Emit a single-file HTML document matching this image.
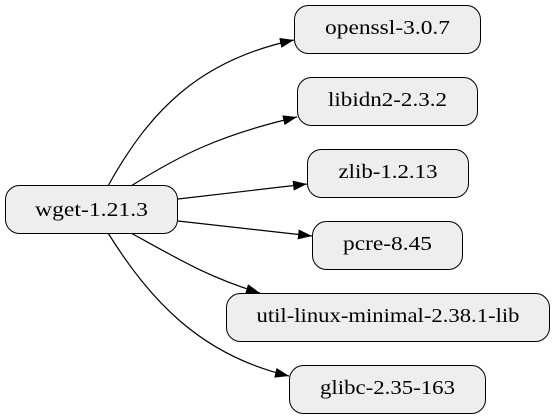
<!DOCTYPE html>
<html><head><meta charset="utf-8"><style>
html,body{margin:0;padding:0;background:#fff;width:553px;height:419px;overflow:hidden}
</style></head><body>
<svg width="553" height="419" viewBox="0 0 553 419" xmlns="http://www.w3.org/2000/svg">
<defs><marker id="a" markerWidth="14" markerHeight="10" refX="14" refY="5" orient="auto" markerUnits="userSpaceOnUse"><path d="M0,0 L14,5 L0,10 z" fill="#000"/></marker></defs>
<g fill="none" stroke="#000" stroke-width="1.2" marker-end="url(#a)">
<path d="M108,186 C150,110 200,60 294,40"/>
<path d="M131,186 C180,155 220,135 297,117"/>
<path d="M178,199 L307,184"/>
<path d="M178,221 L312,236"/>
<path d="M131,233 C180,260 210,278 260,293"/>
<path d="M108,233 C150,300 200,355 289,376"/>
</g>
<g fill="#eeeeee" stroke="#000" stroke-width="1">
<rect x="5.5" y="185.5" width="172" height="48" rx="14"/>
<rect x="294.5" y="5.5" width="186" height="48" rx="14"/>
<rect x="297.5" y="77.5" width="180" height="48" rx="14"/>
<rect x="307.5" y="149.5" width="161" height="48" rx="14"/>
<rect x="312.5" y="221.5" width="150" height="48" rx="14"/>
<rect x="226.5" y="293.5" width="323" height="48" rx="14"/>
<rect x="289.5" y="365.5" width="196" height="48" rx="14"/>
</g>
<g text-anchor="middle" font-family="'Liberation Serif','DejaVu Serif',serif" font-size="19.5" fill="#000">
<text x="91.5" y="216" textLength="113" lengthAdjust="spacingAndGlyphs">wget-1.21.3</text>
<text x="387.5" y="34" textLength="125" lengthAdjust="spacingAndGlyphs">openssl-3.0.7</text>
<text x="387.5" y="106" textLength="119" lengthAdjust="spacingAndGlyphs">libidn2-2.3.2</text>
<text x="388" y="178" textLength="99" lengthAdjust="spacingAndGlyphs">zlib-1.2.13</text>
<text x="387.5" y="250" textLength="89" lengthAdjust="spacingAndGlyphs">pcre-8.45</text>
<text x="388" y="322" textLength="263" lengthAdjust="spacingAndGlyphs">util-linux-minimal-2.38.1-lib</text>
<text x="387.5" y="394" textLength="135" lengthAdjust="spacingAndGlyphs">glibc-2.35-163</text>
</g>
</svg>
</body></html>
